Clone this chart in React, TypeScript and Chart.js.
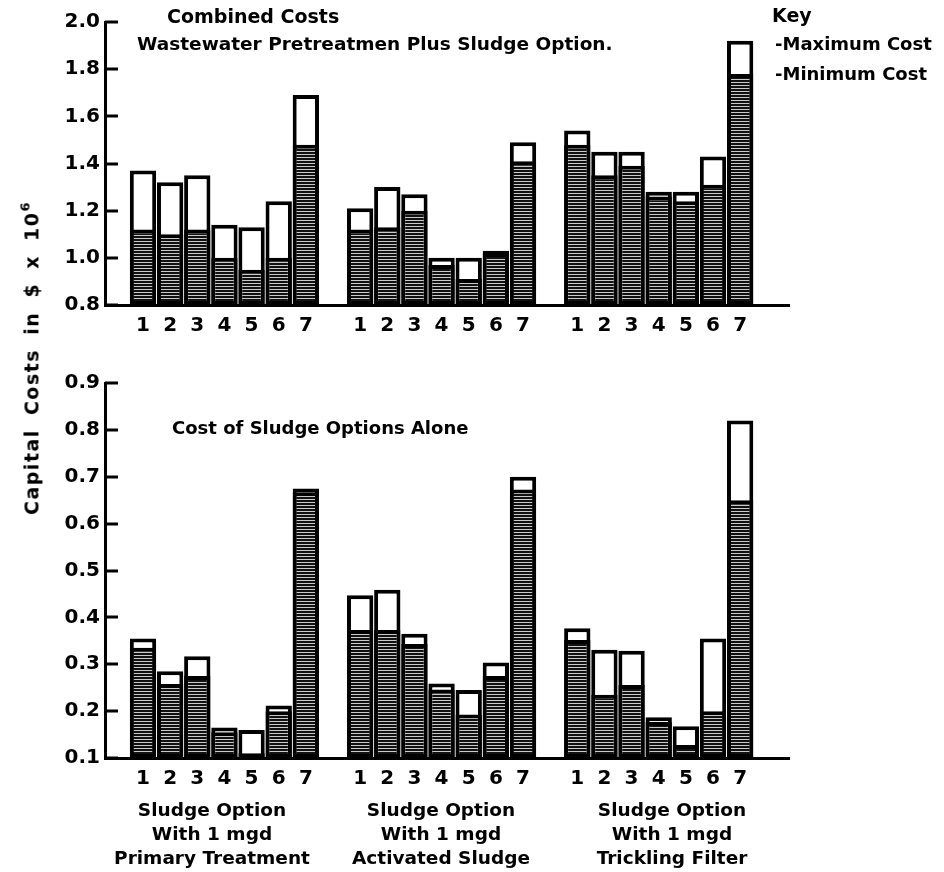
import React, { useEffect, useRef } from "react";
import { Chart, registerables } from "chart.js";

Chart.register(...registerables);

const FONT = "'DejaVu Sans', 'Liberation Sans', sans-serif";

// ---------- categories ----------
const OPTION_LABELS = ["1", "2", "3", "4", "5", "6", "7"];
const GROUP_TITLES = [
  ["Sludge Option", "With 1 mgd", "Primary Treatment"],
  ["Sludge Option", "With 1 mgd", "Activated Sludge"],
  ["Sludge Option", "With 1 mgd", "Trickling Filter"],
];
const GROUP_SLOT = 8; // 7 options + one empty slot between groups

// ---------- combined costs (top panel), $ x 10^6 ----------
const COMBINED_MIN_PRIMARY = [1.12, 1.1, 1.12, 1.0, 0.95, 1.0, 1.48];
const COMBINED_MAX_PRIMARY = [1.37, 1.32, 1.35, 1.14, 1.13, 1.24, 1.69];
const COMBINED_MIN_ACTIVATED = [1.12, 1.13, 1.2, 0.97, 0.91, 1.02, 1.41];
const COMBINED_MAX_ACTIVATED = [1.21, 1.3, 1.27, 1.0, 1.0, 1.03, 1.49];
const COMBINED_MIN_TRICKLING = [1.48, 1.35, 1.39, 1.26, 1.24, 1.31, 1.78];
const COMBINED_MAX_TRICKLING = [1.54, 1.45, 1.45, 1.28, 1.28, 1.43, 1.92];
const COMBINED_Y_TICKS = [0.8, 1.0, 1.2, 1.4, 1.6, 1.8, 2.0];

// ---------- sludge options alone (bottom panel), $ x 10^6 ----------
const SLUDGE_MIN_PRIMARY = [0.335, 0.258, 0.275, 0.155, 0.11, 0.2, 0.667];
const SLUDGE_MAX_PRIMARY = [0.355, 0.285, 0.317, 0.165, 0.16, 0.212, 0.675];
const SLUDGE_MIN_ACTIVATED = [0.373, 0.373, 0.343, 0.246, 0.193, 0.275, 0.673];
const SLUDGE_MAX_ACTIVATED = [0.447, 0.459, 0.365, 0.259, 0.245, 0.304, 0.7];
const SLUDGE_MIN_TRICKLING = [0.352, 0.235, 0.256, 0.177, 0.128, 0.2, 0.65];
const SLUDGE_MAX_TRICKLING = [0.377, 0.331, 0.329, 0.187, 0.168, 0.355, 0.82];
const SLUDGE_Y_TICKS = [0.1, 0.2, 0.3, 0.4, 0.5, 0.6, 0.7, 0.8, 0.9];

function makeHatch(ctx: CanvasRenderingContext2D) {
  const c = document.createElement("canvas");
  c.width = 4;
  c.height = 3;
  const g = c.getContext("2d")!;
  g.fillStyle = "#111";
  g.fillRect(0, 0, 4, 3);
  g.fillStyle = "#cacaca";
  g.fillRect(0, 1, 4, 1);
  return ctx.createPattern(c, "repeat") as CanvasPattern;
}

const inwardTicks = {
  id: "inwardTicks",
  beforeDatasetsDraw(chart: any) {
    const y = chart.scales.y;
    const ctx = chart.ctx;
    const left = chart.chartArea.left;
    ctx.save();
    ctx.strokeStyle = "#000";
    ctx.lineWidth = 3;
    y.ticks.forEach((_t: any, i: number) => {
      const py = Math.round(y.getPixelForTick(i));
      ctx.beginPath();
      ctx.moveTo(left, py);
      ctx.lineTo(left + 13, py);
      ctx.stroke();
    });
    ctx.restore();
  },
};

type PanelProps = {
  top: number;
  height: number;
  plotTop: number;
  plotBottom: number;
  minGroups: number[][];
  maxGroups: number[][];
  yTicks: number[];
};

function Panel({ top, height, plotTop, plotBottom, minGroups, maxGroups, yTicks }: PanelProps) {
  const ref = useRef<HTMLCanvasElement>(null);
  useEffect(() => {
    const canvas = ref.current!;
    const ctx = canvas.getContext("2d")!;
    const hatch = makeHatch(ctx);
    const toPoints = (groups: number[][]) =>
      groups.flatMap((vals, g) => vals.map((v, i) => ({ x: g * GROUP_SLOT + i, y: v })));
    const positions = minGroups.flatMap((vals, g) => vals.map((_v, i) => g * GROUP_SLOT + i));
    const yMin = yTicks[0];
    const yMax = yTicks[yTicks.length - 1];
    const common = {
      borderColor: "#000",
      borderWidth: 4,
      borderSkipped: false,
      grouped: false,
      base: yMin,
      barPercentage: 0.97,
      categoryPercentage: 1,
    };
    const chart = new Chart(canvas, {
      type: "bar",
      data: {
        datasets: [
          { label: "Minimum Cost", data: toPoints(minGroups), backgroundColor: hatch, ...common } as any,
          { label: "Maximum Cost", data: toPoints(maxGroups), backgroundColor: "#fff", ...common } as any,
        ],
      },
      options: {
        responsive: false,
        animation: false,
        layout: { padding: { left: 0, right: 155, top: plotTop, bottom: 0 } },
        plugins: { legend: { display: false }, tooltip: { enabled: false }, title: { display: false } },
        scales: {
          x: {
            type: "linear",
            min: -0.8,
            max: 23.2,
            grid: { display: false, drawTicks: false },
            border: { display: true, color: "#000", width: 3 },
            afterBuildTicks: (s: any) => {
              s.ticks = positions.map((v) => ({ value: v }));
            },
            afterFit: (s: any) => {
              s.height = height - plotBottom;
            },
            ticks: {
              autoSkip: false,
              maxRotation: 0,
              padding: 9,
              color: "#000",
              font: { family: FONT, size: 20, weight: "bold" },
              callback: (v: any) => OPTION_LABELS[Math.round(Number(v)) % GROUP_SLOT] ?? "",
            },
          },
          y: {
            type: "linear",
            min: yMin,
            max: yMax,
            grid: { display: false, drawTicks: false },
            border: { display: true, color: "#000", width: 3 },
            afterBuildTicks: (s: any) => {
              s.ticks = yTicks.map((v) => ({ value: v }));
            },
            afterFit: (s: any) => {
              s.width = 105;
            },
            ticks: {
              padding: 5,
              color: "#000",
              font: { family: FONT, size: 20, weight: "bold" },
              callback: (v: any) => Number(v).toFixed(1),
            },
          },
        },
      } as any,
      plugins: [inwardTicks],
    });
    return () => chart.destroy();
  }, []);
  return (
    <canvas
      ref={ref}
      width={944}
      height={height}
      style={{ position: "absolute", left: 0, top, width: 944, height, display: "block" }}
    />
  );
}

const txt = (left: number, cy: number, size: number): React.CSSProperties => ({
  position: "absolute",
  left,
  top: cy,
  transform: "translateY(-50%)",
  fontSize: size,
  lineHeight: 1,
  fontWeight: "bold",
  whiteSpace: "nowrap",
});

const GROUP_CENTERS = [212, 441, 672];

export default function App() {
  return (
    <div
      style={{
        position: "fixed",
        left: 0,
        top: 0,
        width: 944,
        height: 872,
        background: "#fff",
        overflow: "hidden",
        fontFamily: FONT,
        color: "#000",
      }}
    >
      <Panel
        top={0}
        height={345}
        plotTop={22}
        plotBottom={305}
        minGroups={[COMBINED_MIN_PRIMARY, COMBINED_MIN_ACTIVATED, COMBINED_MIN_TRICKLING]}
        maxGroups={[COMBINED_MAX_PRIMARY, COMBINED_MAX_ACTIVATED, COMBINED_MAX_TRICKLING]}
        yTicks={COMBINED_Y_TICKS}
      />
      <Panel
        top={345}
        height={527}
        plotTop={38}
        plotBottom={413}
        minGroups={[SLUDGE_MIN_PRIMARY, SLUDGE_MIN_ACTIVATED, SLUDGE_MIN_TRICKLING]}
        maxGroups={[SLUDGE_MAX_PRIMARY, SLUDGE_MAX_ACTIVATED, SLUDGE_MAX_TRICKLING]}
        yTicks={SLUDGE_Y_TICKS}
      />

      <div style={txt(167, 16, 19)}>Combined Costs</div>
      <div style={txt(137, 44, 18.5)}>Wastewater Pretreatmen Plus Sludge Option.</div>
      <div style={txt(772, 15, 19)}>Key</div>
      <div style={txt(775, 44, 18)}>-Maximum Cost</div>
      <div style={txt(775, 74, 18)}>-Minimum Cost</div>
      <div style={txt(172, 428, 18)}>Cost of Sludge Options Alone</div>

      {GROUP_TITLES.map((lines, g) => (
        <div
          key={g}
          style={{
            position: "absolute",
            left: GROUP_CENTERS[g] - 130,
            top: 798,
            width: 260,
            textAlign: "center",
            fontSize: 18.5,
            lineHeight: "24px",
            fontWeight: "bold",
            whiteSpace: "nowrap",
          }}
        >
          {lines.map((l, i) => (
            <div key={i}>{l}</div>
          ))}
        </div>
      ))}

      <div
        style={{
          position: "absolute",
          left: 30,
          top: 358,
          transform: "translate(-50%, -50%) rotate(-90deg)",
          fontSize: 19,
          lineHeight: 1,
          fontWeight: "bold",
          whiteSpace: "nowrap",
          letterSpacing: 1.5,
          wordSpacing: 6,
        }}
      >
        Capital Costs in $ x 10<sup style={{ fontSize: 13, verticalAlign: "0.7em" }}>6</sup>
      </div>
    </div>
  );
}
